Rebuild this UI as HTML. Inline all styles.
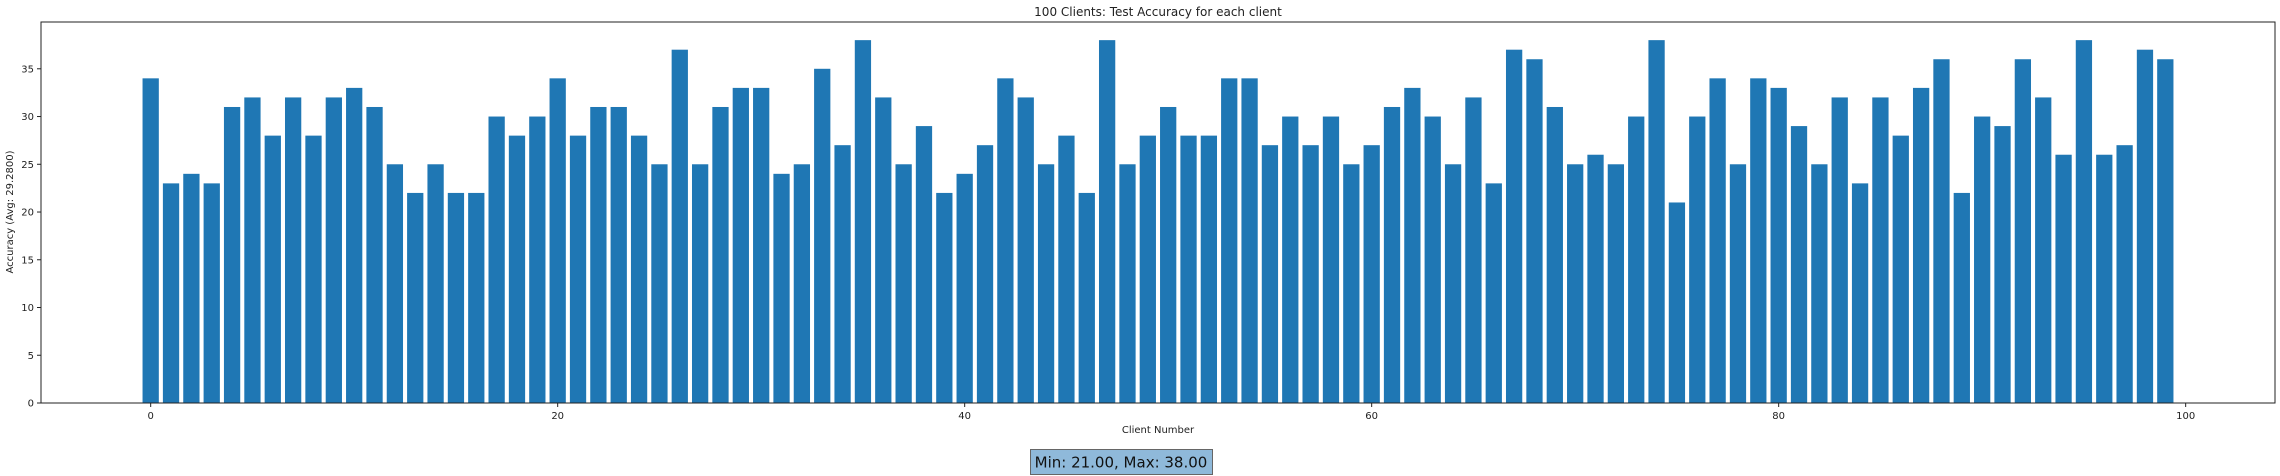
<!DOCTYPE html>
<html><head><meta charset="utf-8"><style>
body{margin:0;background:#fff;}
svg{display:block;font-family:"DejaVu Sans","Liberation Sans",sans-serif;}
</style></head><body>
<svg id="chart" width="2280" height="476" viewBox="0 0 2280 476" xmlns="http://www.w3.org/2000/svg">
<g id="bars"></g>
<g id="axes"></g>
<text x="1158" y="16" font-size="12" text-anchor="middle" fill="#222">100 Clients: Test Accuracy for each client</text>
<text x="1158" y="433" font-size="10" text-anchor="middle" fill="#222">Client Number</text>
<text transform="translate(13,212) rotate(-90)" font-size="10" text-anchor="middle" fill="#222">Accuracy (Avg: 29.2800)</text>
<rect x="1030.5" y="449.5" width="182" height="25" fill="#8fb9da" stroke="#666" stroke-width="1"/>
<text x="1121" y="467.5" font-size="15" text-anchor="middle" fill="#111">Min: 21.00, Max: 38.00</text>
</svg>
<script>
const clients = Array.from({length:100},(_,i)=>i);
const accuracy = [34,23,24,23,31,32,28,32,28,32,
33,31,25,22,25,22,22,30,28,30,
34,28,31,31,28,25,37,25,31,33,
33,24,25,35,27,38,32,25,29,22,
24,27,34,32,25,28,22,38,25,28,
31,28,28,34,34,27,30,27,30,25,
27,31,33,30,25,32,23,37,36,31,
25,26,25,30,38,21,30,34,25,34,
33,29,25,32,23,32,28,33,36,22,
30,29,36,32,26,38,26,27,37,36];
const xTicks = [0,20,40,60,80,100];
const yTicks = [0,5,10,15,20,25,30,35];

const NS="http://www.w3.org/2000/svg";
const L=41,R=2275,T=22,B=403;
const xMin=-5.39,xMax=104.39;
const yMax=Math.max(...accuracy)*1.05;
const xs=v=>L+(v-xMin)/(xMax-xMin)*(R-L);
const ys=v=>B-v/yMax*(B-T);
function mk(tag,attrs,parent){const e=document.createElementNS(NS,tag);for(const k in attrs)e.setAttribute(k,attrs[k]);parent.appendChild(e);return e;}
const bars=document.getElementById('bars');
const axes=document.getElementById('axes');
clients.forEach((c,i)=>{
  const x0=xs(c-0.4),x1=xs(c+0.4),y=ys(accuracy[i]);
  const r=mk('rect',{x:x0,y:y,width:x1-x0,height:B-y,fill:'#1f77b4'},bars);
  
  
});
const frame=mk('rect',{x:L,y:T,width:R-L,height:B-T,fill:'none',stroke:'#222','stroke-width':1},axes);


xTicks.forEach(t=>{
  const x=xs(t);
  mk('line',{x1:x,x2:x,y1:B,y2:B+4,stroke:'#222'},axes);
  const tx=mk('text',{x:x,y:B+16,'font-size':10,'text-anchor':'middle',fill:'#222'},axes);
  tx.textContent=t;
  
  
});
yTicks.forEach(t=>{
  const y=ys(t);
  mk('line',{x1:L-4,x2:L,y1:y,y2:y,stroke:'#222'},axes);
  const tx=mk('text',{x:L-7,y:y+3.5,'font-size':10,'text-anchor':'end',fill:'#222'},axes);
  tx.textContent=t;
  
  
});
</script>
</body></html>
